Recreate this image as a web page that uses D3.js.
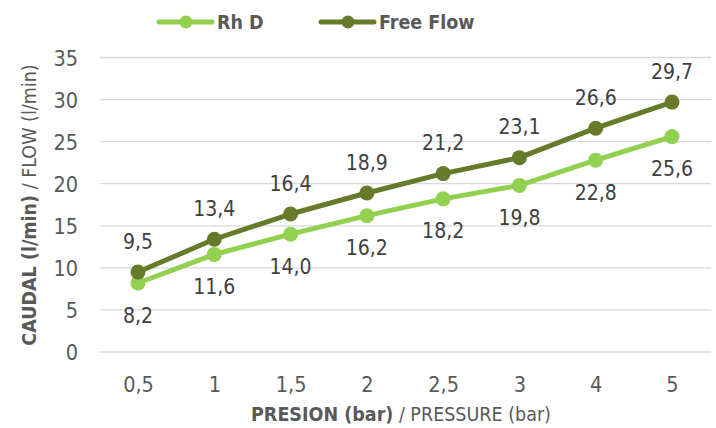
<!DOCTYPE html>
<html><head><meta charset="utf-8">
<script src="https://cdn.jsdelivr.net/npm/d3@7"></script>
<style>body{margin:0;background:#fff;} svg{display:block;font-family:"DejaVu Sans Condensed","DejaVu Sans",sans-serif;}</style>
</head><body><svg id="c" width="716" height="428"></svg>
<script>
const categories = ["0,5","1","1,5","2","2,5","3","4","5"];
const rhD = [8.2,11.6,14.0,16.2,18.2,19.8,22.8,25.6];
const freeFlow = [9.5,13.4,16.4,18.9,21.2,23.1,26.6,29.7];
const yTicks = [0,5,10,15,20,25,30,35];
const seriesNames = ["Rh D","Free Flow"];
const colors = ["#92D050","#667A2A"];
const fmt = v => v.toFixed(1).replace(".", ",");
const FONT = '"DejaVu Sans Condensed","DejaVu Sans",sans-serif';

const svg = d3.select("#c");
const x = d3.scalePoint().domain(categories).range([138,672]);
const y = d3.scaleLinear().domain([0,35]).range([352,57.5]);

// gridlines
svg.append("g").selectAll("line").data(yTicks).join("line")
  .attr("x1",100).attr("x2",711).attr("y1",d=>y(d)).attr("y2",d=>y(d))
  .attr("stroke","#d9d9d9").attr("stroke-width",1.3);

// y axis labels
const yAxis = svg.append("g").attr("transform","translate(78,0)")
  .call(d3.axisLeft(y).tickValues(yTicks).tickSize(0).tickPadding(0));
yAxis.attr("font-family",FONT).attr("font-size",null);
yAxis.select(".domain").remove();
yAxis.selectAll("text").attr("font-size",21.5).attr("fill","#595959").attr("dy","0.36em");

// x axis labels
const xAxis = svg.append("g").attr("transform","translate(0,392)")
  .call(d3.axisBottom(x).tickSize(0).tickPadding(0));
xAxis.attr("font-family",FONT).attr("font-size",null);
xAxis.select(".domain").remove();
xAxis.selectAll("text").attr("font-size",21.5).attr("fill","#595959").attr("dy","0");

// axis titles
const xt = svg.append("text").attr("x",401).attr("y",421).attr("text-anchor","middle")
  .attr("font-size",19.5).attr("fill","#595959");
xt.append("tspan").attr("font-weight","bold").text("PRESION (bar)");
xt.append("tspan").text(" / PRESSURE (bar)");
const yt = svg.append("text").attr("transform","translate(36,205) rotate(-90)").attr("text-anchor","middle")
  .attr("font-size",19.5).attr("fill","#595959");
yt.append("tspan").attr("font-weight","bold").text("CAUDAL (l/min)");
yt.append("tspan").text(" / FLOW (l/min)");

const line = d3.line().x((d,i)=>x(categories[i])).y(d=>y(d));
[rhD, freeFlow].forEach((vals,si)=>{
  const g = svg.append("g");
  g.append("path").datum(vals).attr("d",line).attr("fill","none")
    .attr("stroke",colors[si]).attr("stroke-width",5).attr("stroke-linejoin","round").attr("stroke-linecap","round");
  g.selectAll("circle").data(vals).join("circle")
    .attr("cx",(d,i)=>x(categories[i])).attr("cy",d=>y(d)).attr("r",7.5).attr("fill",colors[si]);
  g.selectAll("text").data(vals).join("text")
    .attr("x",(d,i)=>x(categories[i])).attr("y",d=>y(d)+(si===0?32:-31))
    .attr("dy","0.36em").attr("text-anchor","middle").attr("font-size",21).attr("fill","#404040")
    .text(d=>fmt(d));
});

// legend
const leg = [{x:159,name:seriesNames[0],c:colors[0]},{x:321,name:seriesNames[1],c:colors[1]}];
leg.forEach(l=>{
  svg.append("line").attr("x1",l.x).attr("x2",l.x+53).attr("y1",22).attr("y2",22)
    .attr("stroke",l.c).attr("stroke-width",5).attr("stroke-linecap","round");
  svg.append("circle").attr("cx",l.x+27).attr("cy",22).attr("r",6.5).attr("fill",l.c);
  svg.append("text").attr("x",l.x+58).attr("y",22).attr("dy","0.36em").attr("font-size",19.5)
    .attr("font-weight","bold").attr("fill","#595959").text(l.name);
});
</script></body></html>
